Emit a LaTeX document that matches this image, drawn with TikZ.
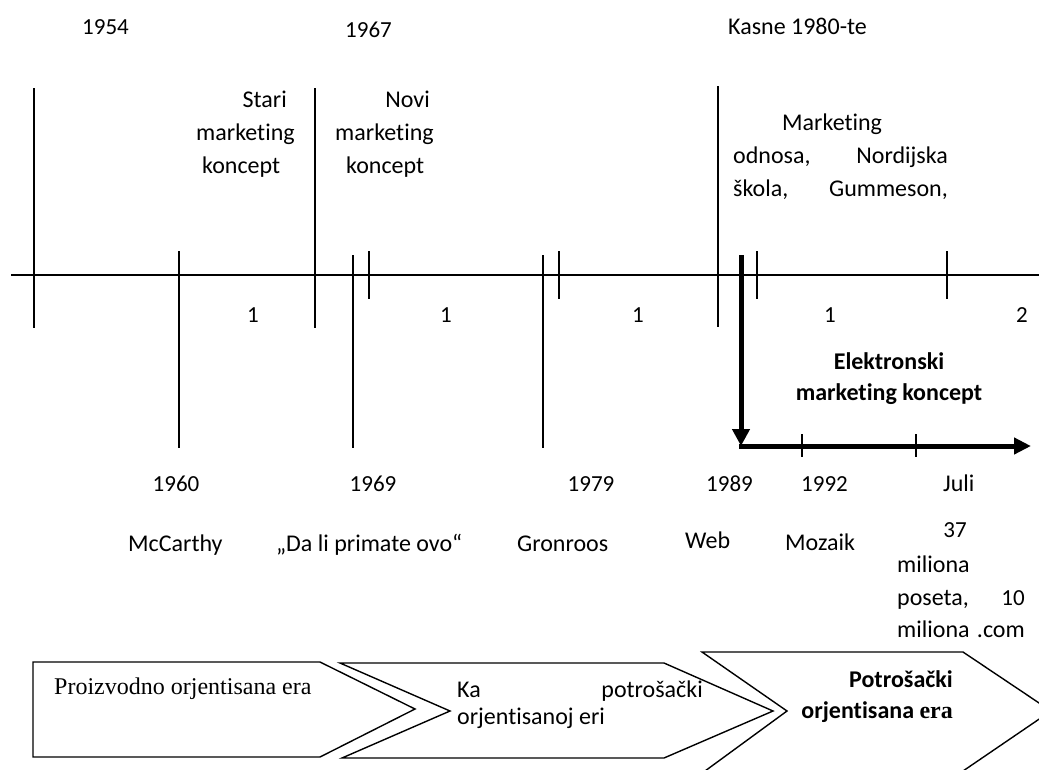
\documentclass[tikz,border=0pt]{standalone}
\usepackage{fontspec}
\setmainfont{Carlito}[Ligatures=NoCommon]
\newfontfamily\tnr{Liberation Serif}
\usetikzlibrary{arrows.meta}
\begin{document}
\begin{tikzpicture}[x=1pt,y=-1pt,
  lbl/.style={inner sep=0pt,font=\fontsize{24}{28}\selectfont},
  num/.style={inner sep=0pt,font=\fontsize{23}{27}\selectfont},
  blbl/.style={inner sep=0pt,font=\fontsize{24}{28}\selectfont\bfseries},
  axis/.style={line width=1.6pt},
  tick/.style={line width=1.7pt},
  thickarrow/.style={line width=5pt,-{Triangle[length=17pt,width=17pt]}},
  chevron/.style={line width=1.4pt,line join=miter}]
\useasboundingbox (0,0) rectangle (1039,769);
\clip (0,0) rectangle (1039,769);

% main time axis
\coordinate (axL) at (11,275);
\coordinate (axR) at (1039,275);
\draw[axis] (axL) -- (axR);

% tall marks above and below the axis
\foreach \x/\a/\b in {34/88/328, 315/88/328, 718/86/327,
                      179/251/448, 353/255/448, 543/255/448,
                      369/251/299, 559/251/299, 757/251/299, 947/251/299}
  \draw[tick] (\x,\a) -- (\x,\b);

% electronic marketing arrow
\coordinate (elTop) at (741,255);
\coordinate (elCorner) at (741,446);
\coordinate (elStart) at (739,446);
\coordinate (elEnd) at (1031,446);
\draw[thickarrow] (elTop) -- (elCorner);
\draw[line width=5pt,-{Triangle[length=17pt,width=16pt]}] (elStart) -- (elEnd);
\foreach \x in {802,916}
  \draw[tick] (\x,434) -- (\x,457);

% labels above the axis
\node[num,anchor=base west] (y1954) at (82,34) {1954};
\node[num,anchor=base west] (y1967) at (345,37) {1967};
\node[lbl,anchor=base west] (kasne) at (728,34) {Kasne 1980-te};

\node[lbl,anchor=base east] (stari1) at (287,107) {Stari};
\node[lbl,anchor=base west] (stari2) at (196,140) {marketing};
\node[lbl,anchor=base west] (stari3) at (202,173) {koncept};

\node[lbl,anchor=base east] (novi1) at (430,107) {Novi};
\node[lbl,anchor=base west] (novi2) at (335,140) {marketing};
\node[lbl,anchor=base west] (novi3) at (346,173) {koncept};

\node[lbl,anchor=base west] (mo1) at (782,130) {Marketing};
\node[lbl,anchor=base west] (mo2) at (733,163) {odnosa,};
\node[lbl,anchor=base east] (mo3) at (948,163) {Nordijska};
\node[lbl,anchor=base west] (mo4) at (733,196) {škola,};
\node[lbl,anchor=base east] (mo5) at (948,196) {Gummeson,};

% labels below the axis
\node[num,anchor=base] (n1a) at (253,322) {1};
\node[num,anchor=base] (n1b) at (446,322) {1};
\node[num,anchor=base] (n1c) at (638,322) {1};
\node[num,anchor=base] (n1d) at (830,322) {1};
\node[num,anchor=base] (n2) at (1022,322) {2};

\node[blbl,anchor=base] (el1) at (889,369) {Elektronski};
\node[blbl,anchor=base] (el2) at (889,400) {marketing koncept};

\node[num,anchor=base] (y1960) at (176,491) {1960};
\node[num,anchor=base] (y1969) at (373,491) {1969};
\node[num,anchor=base] (y1979) at (591,491) {1979};
\node[num,anchor=base west] (y1989) at (706,491) {1989};
\node[num,anchor=base west] (y1992) at (801,491) {1992};
\node[lbl,anchor=base west] (juli) at (943,491) {Juli};

\node[lbl,anchor=base west] (mccarthy) at (128,551) {McCarthy};
\node[lbl,anchor=base west] (dali) at (276,551) {„Da li primate ovo“};
\node[lbl,anchor=base west] (gronroos) at (517,551) {Gronroos};
\node[lbl,anchor=base west] (web) at (685,548) {Web};
\node[lbl,anchor=base west] (mozaik) at (785,550) {Mozaik};
\node[num,anchor=base east] (m37) at (967,537) {37};
\node[lbl,anchor=base west] (mil1) at (897,572) {miliona};
\node[lbl,anchor=base west] (poseta) at (897,605) {poseta,};
\node[num,anchor=base east] (m10) at (1025,605) {10};
\node[lbl,anchor=base west] (mil2) at (897,637) {miliona};
\node[lbl,anchor=base east] (dotcom) at (1025,637) {.com};

% era chevrons
\draw[chevron] (33,662) -- (320,662) -- (415,709) -- (320,757) -- (33,757) -- cycle;
\draw[chevron] (340,663) -- (664,663) -- (773,711) -- (664,758) -- (342,758) -- (450,711) -- cycle;
\draw[chevron] (702,652) -- (963,652) -- (1051,711) -- (963,771) -- (705,771) -- (787,711) -- cycle;

\node[inner sep=0pt,anchor=base west,font=\fontsize{24}{28}\selectfont\tnr] (era1) at (54,694) {Proizvodno orjentisana era};
\node[lbl,anchor=base west] (era2a) at (457,697) {Ka};
\node[lbl,anchor=base east] (era2b) at (703,697) {potrošački};
\node[lbl,anchor=base west] (era2c) at (457,724) {orjentisanoj eri};
\node[blbl,anchor=base east] (era3a) at (953,687) {Potrošački};
\node[blbl,anchor=base east] (era3b) at (953,718) {orjentisana {\tnr era}};
\end{tikzpicture}
\end{document}
